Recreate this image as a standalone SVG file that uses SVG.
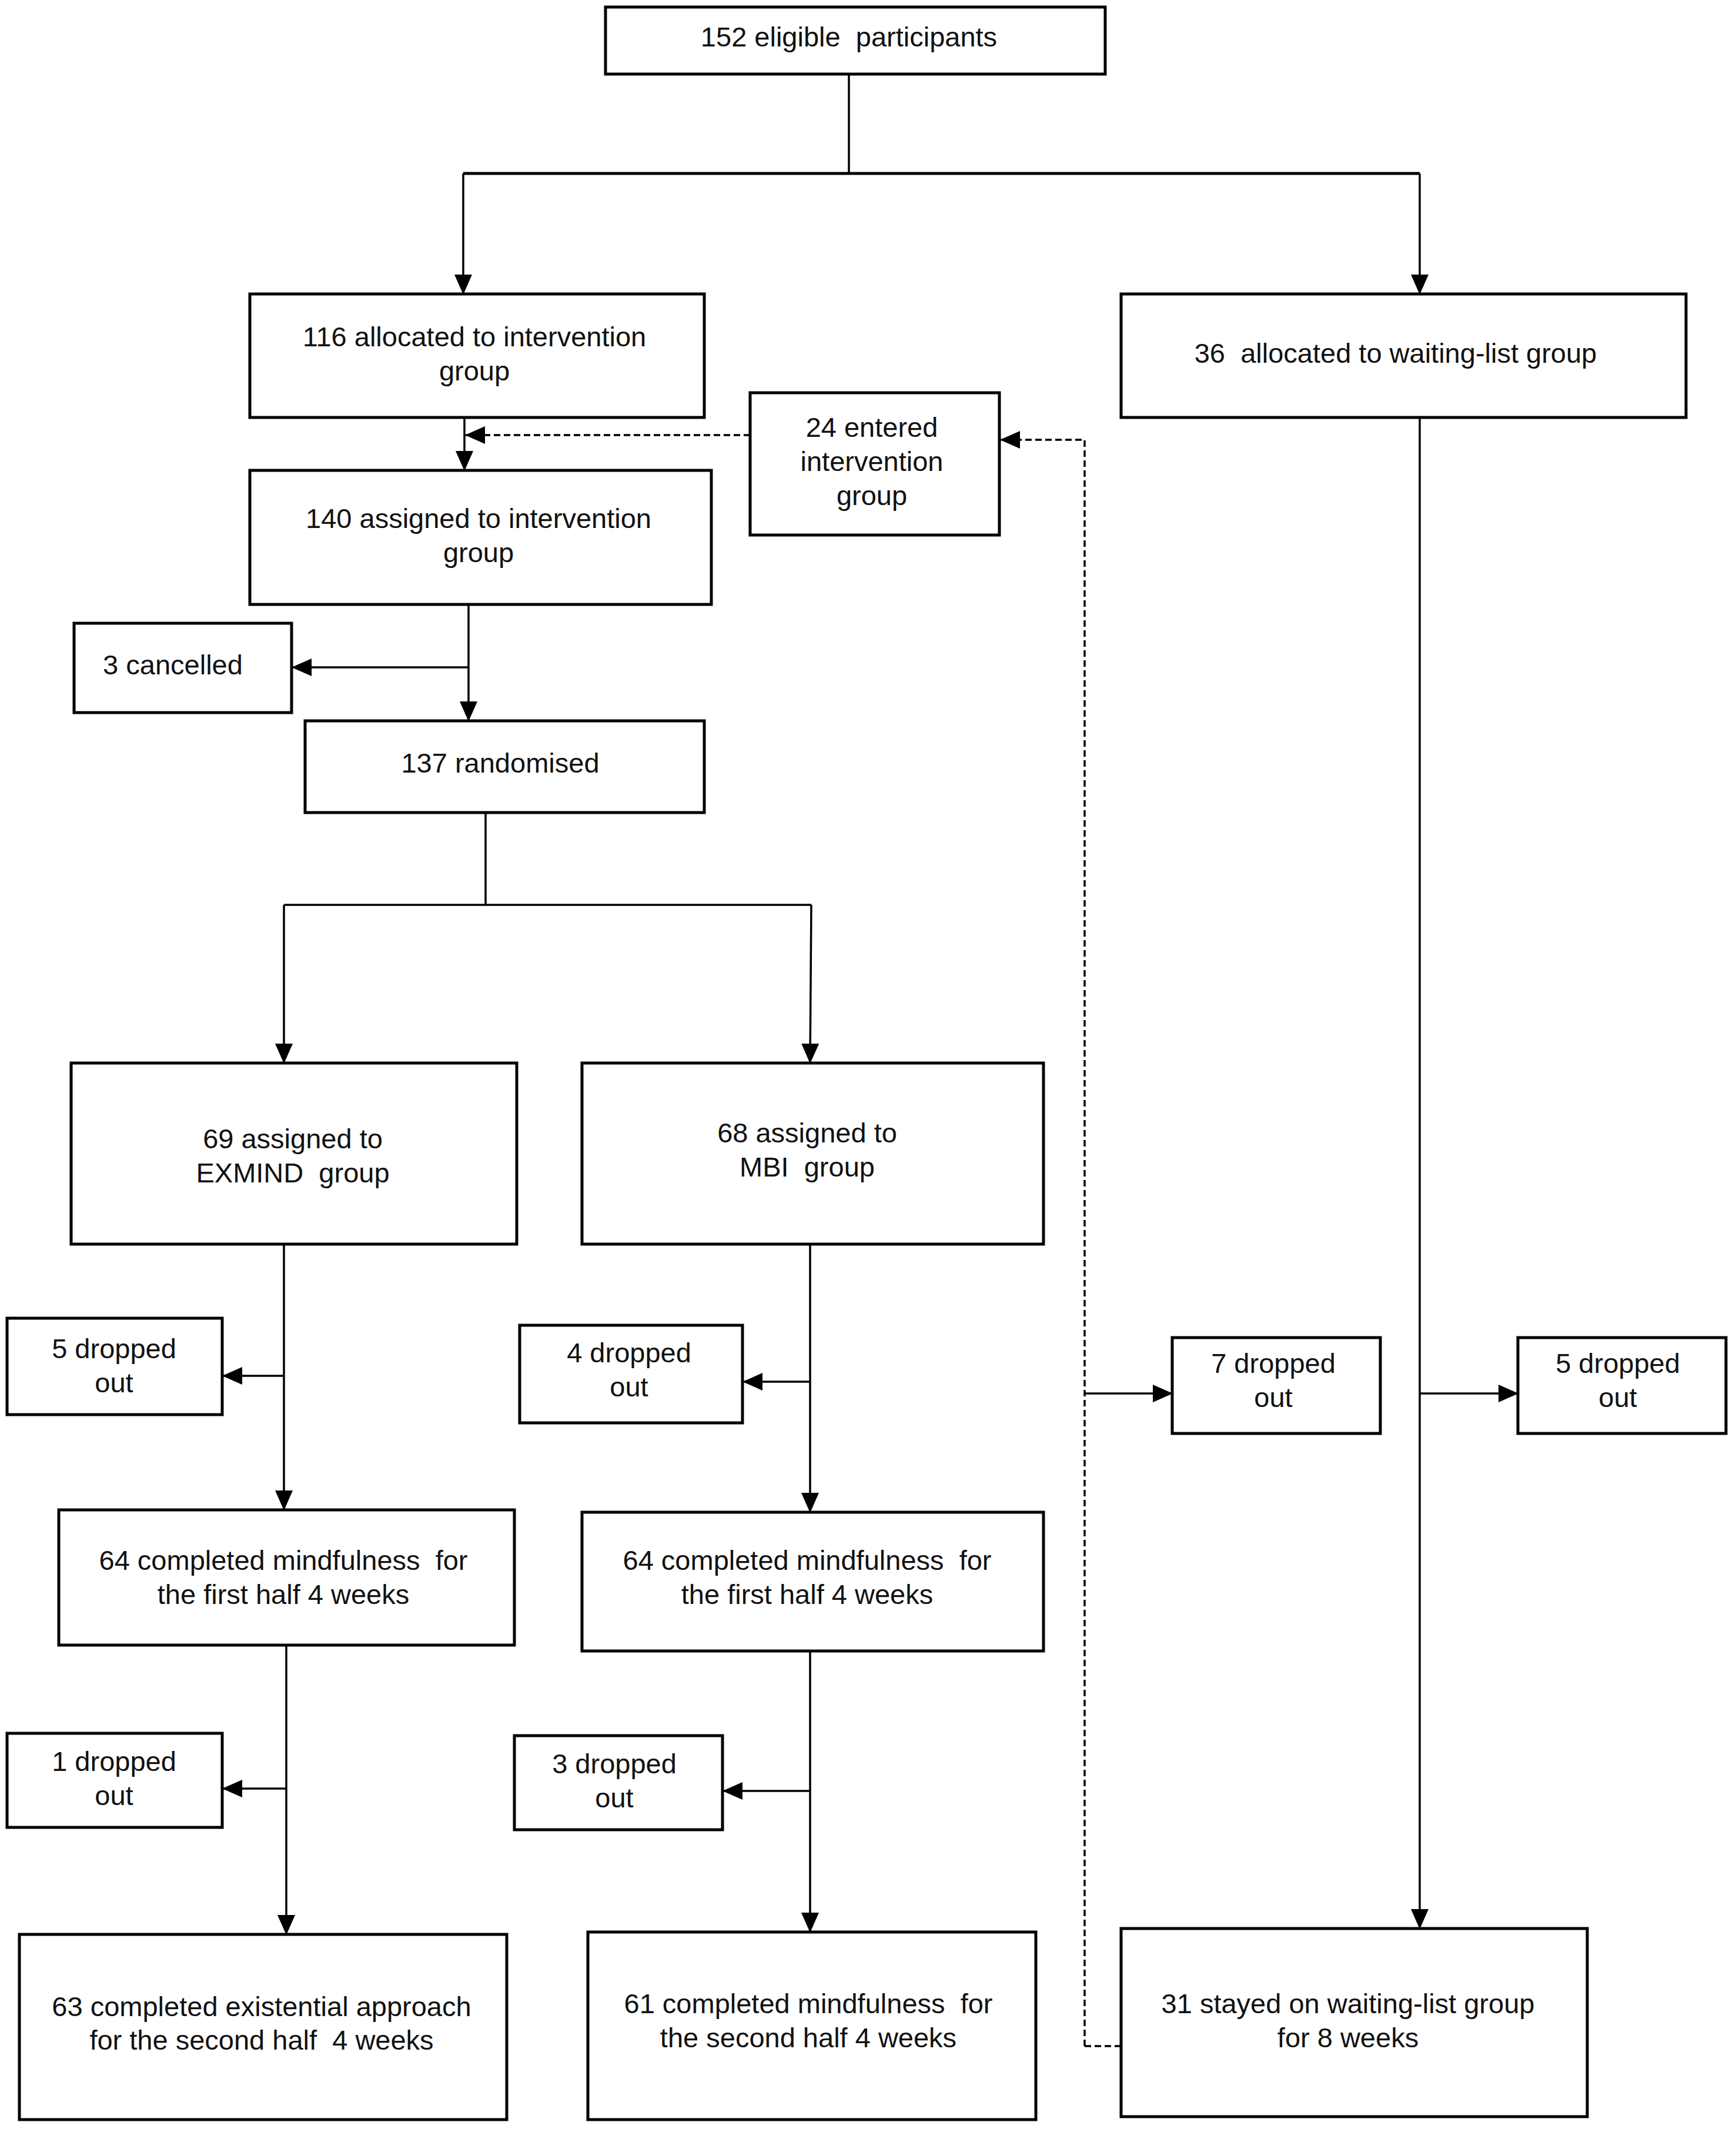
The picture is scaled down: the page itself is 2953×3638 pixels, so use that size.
<svg xmlns="http://www.w3.org/2000/svg" width="2953" height="3638" viewBox="0 0 2953 3638">
<style>
.box{fill:#ffffff;stroke:#000000;stroke-width:5}
.t{font-family:"Liberation Sans",Arial,sans-serif;font-size:47px;fill:#111111;text-anchor:middle}
.c{fill:none;stroke:#000000;stroke-width:3.5}
.d{fill:none;stroke:#000000;stroke-width:3.5;stroke-dasharray:11,6}
</style>
<defs>
<marker id="ah" markerUnits="userSpaceOnUse" markerWidth="34" markerHeight="30" refX="33" refY="15" orient="auto">
<path d="M0,0 L34,15 L0,30 Z" fill="#000000"/>
</marker>
</defs>
<rect width="2953" height="3638" fill="#ffffff"/>
<g id="connectors">
<path class="c" d="M1444,126 V295"/>
<path class="c" d="M788,295 H2415" style="stroke-width:5"/>
<path class="c" d="M788,295 V500" marker-end="url(#ah)"/>
<path class="c" d="M2415,295 V500" marker-end="url(#ah)"/>
<path class="c" d="M790,710 V800" marker-end="url(#ah)"/>
<path class="d" d="M1276,740 H792" marker-end="url(#ah)"/>
<path class="d" d="M1845,3480 V748 H1702" marker-end="url(#ah)"/>
<path class="d" d="M1845,3480 H1907"/>
<path class="c" d="M1845,2370 H1994" marker-end="url(#ah)"/>
<path class="c" d="M797,1028 V1226" marker-end="url(#ah)"/>
<path class="c" d="M797,1135 H497" marker-end="url(#ah)"/>
<path class="c" d="M826,1382 V1539"/>
<path class="c" d="M483,1539 H1380"/>
<path class="c" d="M483,1539 V1808" marker-end="url(#ah)"/>
<path class="c" d="M1380,1539 L1378,1808" marker-end="url(#ah)"/>
<path class="c" d="M483,2116 V2568" marker-end="url(#ah)"/>
<path class="c" d="M483,2340 H379" marker-end="url(#ah)"/>
<path class="c" d="M1378,2116 V2572" marker-end="url(#ah)"/>
<path class="c" d="M1378,2350 H1264" marker-end="url(#ah)"/>
<path class="c" d="M487,2798 V3290" marker-end="url(#ah)"/>
<path class="c" d="M487,3042 H379" marker-end="url(#ah)"/>
<path class="c" d="M1378,2808 V3286" marker-end="url(#ah)"/>
<path class="c" d="M1378,3046 H1230" marker-end="url(#ah)"/>
<path class="c" d="M2415,710 V3280" marker-end="url(#ah)"/>
<path class="c" d="M2415,2370 H2582" marker-end="url(#ah)"/>
</g>
<g id="n152"><rect class="box" x="1030" y="12" width="850" height="114"/><text class="t" x="1444" y="79" xml:space="preserve">152 eligible  participants</text></g>
<g id="n116"><rect class="box" x="425" y="500" width="773" height="210"/><text class="t" x="807" y="589">116 allocated to intervention</text><text class="t" x="807" y="647">group</text></g>
<g id="n36"><rect class="box" x="1907" y="500" width="961" height="210"/><text class="t" x="2374" y="617" xml:space="preserve">36  allocated to waiting-list group</text></g>
<g id="n24"><rect class="box" x="1276" y="668" width="424" height="242"/><text class="t" x="1483" y="743">24 entered</text><text class="t" x="1483" y="801">intervention</text><text class="t" x="1483" y="859">group</text></g>
<g id="n140"><rect class="box" x="425" y="800" width="785" height="228"/><text class="t" x="814" y="898">140 assigned to intervention</text><text class="t" x="814" y="956">group</text></g>
<g id="n3c"><rect class="box" x="126" y="1060" width="370" height="152"/><text class="t" x="294" y="1147">3 cancelled</text></g>
<g id="n137"><rect class="box" x="519" y="1226" width="679" height="156"/><text class="t" x="851" y="1314">137 randomised</text></g>
<g id="n69"><rect class="box" x="121" y="1808" width="758" height="308"/><text class="t" x="498" y="1953">69 assigned to</text><text class="t" x="498" y="2011" xml:space="preserve">EXMIND  group</text></g>
<g id="n68"><rect class="box" x="990" y="1808" width="785" height="308"/><text class="t" x="1373" y="1943">68 assigned to</text><text class="t" x="1373" y="2001" xml:space="preserve">MBI  group</text></g>
<g id="n5l"><rect class="box" x="12" y="2242" width="366" height="164"/><text class="t" x="194" y="2310">5 dropped</text><text class="t" x="194" y="2368">out</text></g>
<g id="n4"><rect class="box" x="884" y="2254" width="379" height="166"/><text class="t" x="1070" y="2317">4 dropped</text><text class="t" x="1070" y="2375">out</text></g>
<g id="n7"><rect class="box" x="1994" y="2275" width="354" height="163"/><text class="t" x="2166" y="2335">7 dropped</text><text class="t" x="2166" y="2393">out</text></g>
<g id="n5r"><rect class="box" x="2582" y="2275" width="354" height="163"/><text class="t" x="2752" y="2335">5 dropped</text><text class="t" x="2752" y="2393">out</text></g>
<g id="n64a"><rect class="box" x="100" y="2568" width="775" height="230"/><text class="t" x="482" y="2670" xml:space="preserve">64 completed mindfulness  for</text><text class="t" x="482" y="2728">the first half 4 weeks</text></g>
<g id="n64b"><rect class="box" x="990" y="2572" width="785" height="236"/><text class="t" x="1373" y="2670" xml:space="preserve">64 completed mindfulness  for</text><text class="t" x="1373" y="2728">the first half 4 weeks</text></g>
<g id="n1"><rect class="box" x="12" y="2948" width="366" height="160"/><text class="t" x="194" y="3012">1 dropped</text><text class="t" x="194" y="3070">out</text></g>
<g id="n3d"><rect class="box" x="875" y="2952" width="354" height="160"/><text class="t" x="1045" y="3016">3 dropped</text><text class="t" x="1045" y="3074">out</text></g>
<g id="n63"><rect class="box" x="33" y="3290" width="829" height="315"/><text class="t" x="445" y="3429">63 completed existential approach</text><text class="t" x="445" y="3486" xml:space="preserve">for the second half  4 weeks</text></g>
<g id="n61"><rect class="box" x="1000" y="3286" width="762" height="319"/><text class="t" x="1375" y="3424" xml:space="preserve">61 completed mindfulness  for</text><text class="t" x="1375" y="3482">the second half 4 weeks</text></g>
<g id="n31"><rect class="box" x="1907" y="3280" width="793" height="320"/><text class="t" x="2293" y="3424">31 stayed on waiting-list group</text><text class="t" x="2293" y="3482">for 8 weeks</text></g>
</svg>
